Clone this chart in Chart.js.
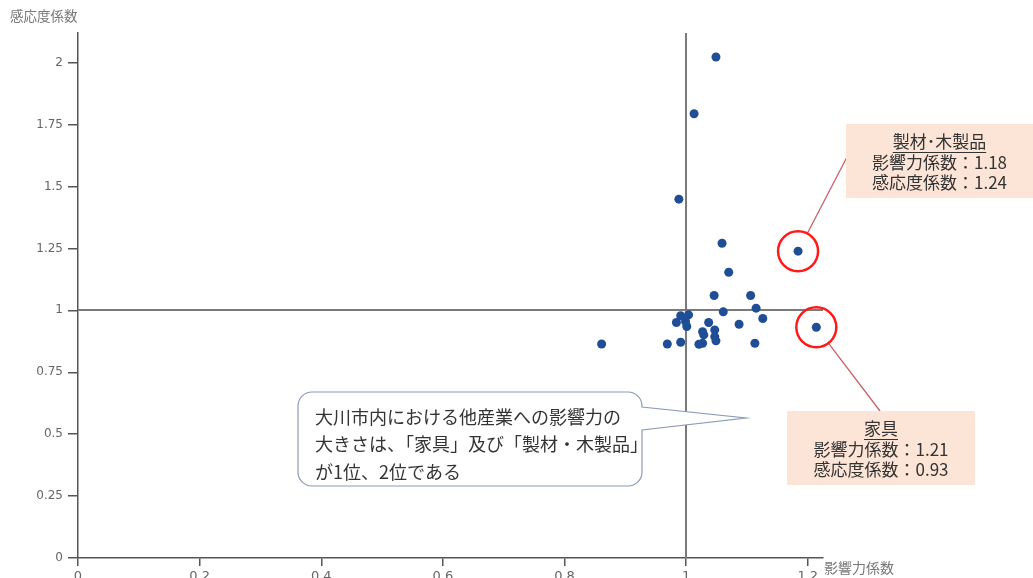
<!DOCTYPE html>
<html>
<head>
<meta charset="utf-8">
<script src="https://cdn.jsdelivr.net/npm/chart.js@4"></script>
<style>
  html, body { margin: 0; padding: 0; background: #fff; overflow: hidden; }
  #wrap { width: 1033px; height: 592px; }
</style>
</head>
<body>
<div id="wrap"><canvas id="chart" width="1033" height="592"></canvas></div>
<script>
// ---- data ----
const influence = [1.049, 1.013, 0.988, 1.059, 1.070, 1.046, 1.106, 1.115, 1.126, 1.061,
  1.087, 1.113, 0.991, 1.004, 0.984, 0.999, 1.001, 1.037, 1.027, 1.047,
  1.029, 1.047, 1.049, 1.021, 1.027, 0.991, 0.969, 0.861, 1.184, 1.214];
const sensitivity = [2.023, 1.794, 1.449, 1.271, 1.154, 1.060, 1.060, 1.009, 0.967, 0.994,
  0.944, 0.867, 0.978, 0.982, 0.951, 0.955, 0.935, 0.951, 0.914, 0.921,
  0.901, 0.894, 0.877, 0.863, 0.867, 0.871, 0.864, 0.864, 1.239, 0.932];
// highlighted sectors (index into the arrays above)
const highlightIdx = [28, 29];
const highlightNames = ['製材･木製品', '家具'];
const highlightInfluence = ['1.18', '1.21'];
const highlightSensitivity = ['1.24', '0.93'];

const xTicks = [0, 0.2, 0.4, 0.6, 0.8, 1, 1.2];
const yTicks = [0, 0.25, 0.5, 0.75, 1, 1.25, 1.5, 1.75, 2];
const xMax = 1.225;
const yMax = 2.12;
const refX = 1;
const refY = 1;

const xTitle = '影響力係数';
const yTitle = '感応度係数';
const calloutLines = ['大川市内における他産業への影響力の', '大きさは、「家具」及び「製材・木製品」', 'が1位、2位である'];

const JP = '"Noto Sans CJK JP", sans-serif';
const AXIS = '#555';
const fmt = v => String(+Number(v).toFixed(2));

// reference lines at 1.0
const refLines = {
  id: 'refLines',
  beforeDatasetsDraw(chart) {
    const { ctx, chartArea: a, scales: { x, y } } = chart;
    ctx.save();
    ctx.strokeStyle = '#7a7a7a';
    ctx.lineWidth = 2;
    const px = Math.round(x.getPixelForValue(refX));
    const py = Math.round(y.getPixelForValue(refY));
    ctx.beginPath();
    ctx.moveTo(px, a.top); ctx.lineTo(px, a.bottom);
    ctx.moveTo(a.left, py); ctx.lineTo(a.right, py);
    ctx.stroke();
    ctx.restore();
  }
};

function infoBox(ctx, left, top, right, bottom, title, l2, l3) {
  ctx.fillStyle = '#fce4d6';
  ctx.fillRect(left, top, right - left, bottom - top);
  const cx = (left + right) / 2;
  ctx.fillStyle = '#333';
  ctx.font = '17px ' + JP;
  ctx.textAlign = 'center';
  ctx.textBaseline = 'middle';
  const ty = top + 18;
  ctx.fillText(title, cx, ty);
  const w = ctx.measureText(title).width;
  ctx.strokeStyle = '#333';
  ctx.lineWidth = 1;
  ctx.beginPath();
  ctx.moveTo(cx - w / 2, ty + 10.5); ctx.lineTo(cx + w / 2, ty + 10.5);
  ctx.stroke();
  ctx.fillText(l2, cx, ty + 21);
  ctx.fillText(l3, cx, ty + 41);
}

const annotations = {
  id: 'annotations',
  afterDraw(chart) {
    const { ctx, scales: { x, y } } = chart;
    ctx.save();

    // axis titles
    ctx.fillStyle = '#777';
    ctx.font = '13.5px ' + JP;
    ctx.textBaseline = 'middle';
    ctx.textAlign = 'left';
    ctx.fillText(yTitle, 10, 16);
    ctx.font = '14px ' + JP;
    ctx.fillText(xTitle, 824, 568);

    // highlighted points: circle + connector + box
    const boxes = [
      { l: 846, t: 124, r: 1033, b: 198, ax: 847, ay: 157 },
      { l: 787, t: 411, r: 975, b: 485, ax: 880, ay: 411 }
    ];
    highlightIdx.forEach((idx, k) => {
      const cx = x.getPixelForValue(influence[idx]);
      const cy = y.getPixelForValue(sensitivity[idx]);
      const R = 20;
      const bx = boxes[k];
      const dx = bx.ax - cx, dy = bx.ay - cy;
      const d = Math.hypot(dx, dy);
      ctx.strokeStyle = '#c8606a';
      ctx.lineWidth = 1.3;
      ctx.beginPath();
      ctx.moveTo(cx + dx / d * R, cy + dy / d * R);
      ctx.lineTo(bx.ax, bx.ay);
      ctx.stroke();
      ctx.strokeStyle = '#ff1a1a';
      ctx.lineWidth = 2.5;
      ctx.beginPath();
      ctx.arc(cx, cy, R, 0, Math.PI * 2);
      ctx.stroke();
      infoBox(ctx, bx.l, bx.t, bx.r, bx.b, highlightNames[k],
        '影響力係数：' + highlightInfluence[k], '感応度係数：' + highlightSensitivity[k]);
    });

    // speech bubble
    const L = 298, T = 392, Rr = 642, B = 486, rad = 14;
    ctx.beginPath();
    ctx.moveTo(L + rad, T);
    ctx.lineTo(Rr - rad, T);
    ctx.arcTo(Rr, T, Rr, T + rad, rad);
    ctx.lineTo(Rr, 407);
    ctx.lineTo(746, 418);
    ctx.lineTo(Rr, 430);
    ctx.lineTo(Rr, B - rad);
    ctx.arcTo(Rr, B, Rr - rad, B, rad);
    ctx.lineTo(L + rad, B);
    ctx.arcTo(L, B, L, B - rad, rad);
    ctx.lineTo(L, T + rad);
    ctx.arcTo(L, T, L + rad, T, rad);
    ctx.closePath();
    ctx.fillStyle = '#fff';
    ctx.fill();
    ctx.strokeStyle = '#8a9bb3';
    ctx.lineWidth = 1.2;
    ctx.stroke();
    ctx.fillStyle = '#333';
    ctx.font = '18px ' + JP;
    ctx.textAlign = 'left';
    ctx.textBaseline = 'middle';
    calloutLines.forEach((s, i) => ctx.fillText(s, 315, 417 + i * 27.5));

    ctx.restore();
  }
};

const points = influence.map((v, i) => ({ x: v, y: sensitivity[i] }));

new Chart(document.getElementById('chart'), {
  type: 'scatter',
  data: {
    datasets: [{
      data: points,
      backgroundColor: '#1f4e96',
      borderWidth: 0,
      pointRadius: 4.5,
      pointHoverRadius: 4.5,
    }],
  },
  options: {
    responsive: false,
    animation: false,
    events: [],
    layout: { padding: { left: 0, top: 33, right: 210, bottom: 0 } },
    plugins: { legend: { display: false }, tooltip: { enabled: false } },
    scales: {
      x: {
        type: 'linear',
        min: 0,
        max: xMax,
        afterBuildTicks: s => { s.ticks = xTicks.map(v => ({ value: v })); },
        afterFit: s => { s.height = 34; },
        border: { color: AXIS, width: 1.5 },
        grid: { drawOnChartArea: false, tickLength: 8, color: AXIS, lineWidth: 1.5 },
        ticks: { padding: 3, color: '#666', font: { family: 'DejaVu Sans', size: 13 }, maxRotation: 0, callback: fmt },
      },
      y: {
        type: 'linear',
        min: 0,
        max: yMax,
        afterBuildTicks: s => { s.ticks = yTicks.map(v => ({ value: v })); },
        afterFit: s => { s.width = 78; },
        border: { color: AXIS, width: 1.5 },
        grid: { drawOnChartArea: false, tickLength: 10, color: AXIS, lineWidth: 1.5 },
        ticks: { padding: 5, color: '#666', font: { family: 'DejaVu Sans', size: 12 }, callback: fmt },
      },
    },
  },
  plugins: [refLines, annotations],
});
</script>
</body>
</html>
